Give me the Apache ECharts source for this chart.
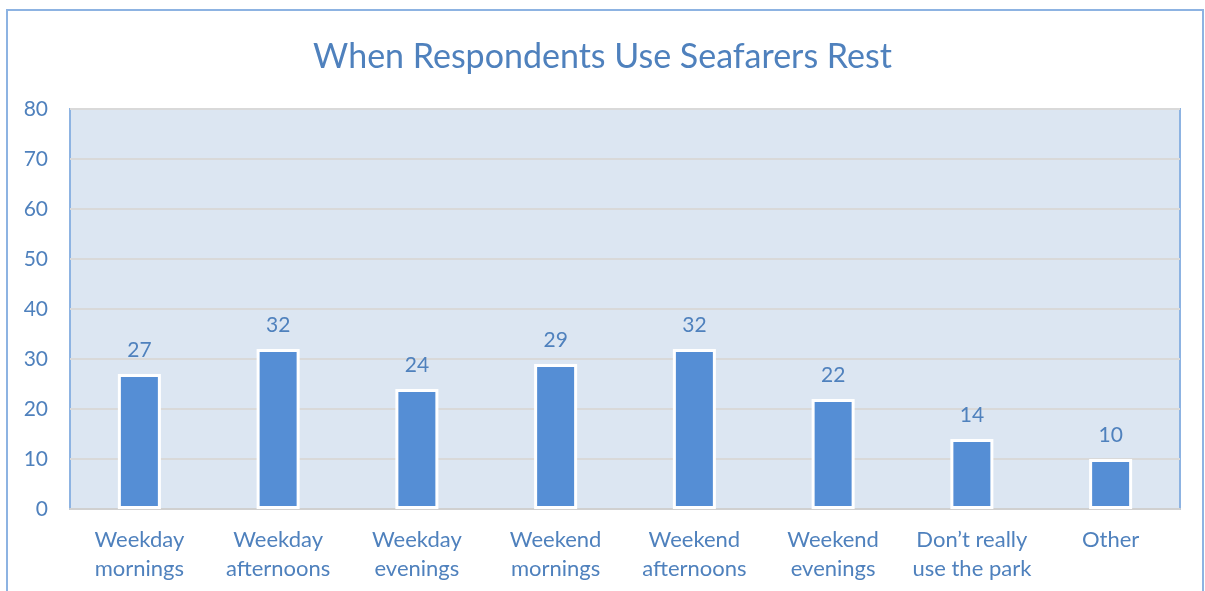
<!DOCTYPE html>
<html>
<head>
<meta charset="utf-8">
<script src="https://cdn.jsdelivr.net/npm/echarts@6/dist/echarts.min.js"></script>
<style>
  html, body { margin: 0; padding: 0; background: #fff; }
  #chart { width: 1205px; height: 591px; }
</style>
</head>
<body>
<div id="chart"></div>
<script>
const categories = ['Weekday\nmornings', 'Weekday\nafternoons', 'Weekday\nevenings', 'Weekend\nmornings',
  'Weekend\nafternoons', 'Weekend\nevenings', 'Don\u2019t really\nuse the park', 'Other'];
const counts = [27, 32, 24, 29, 32, 22, 14, 10];
const yTicks = [0, 80, 10]; // min, max, interval

const textColor = '#4f81bd';
const font = 'Lato, "Open Sans", sans-serif';

const chart = echarts.init(document.getElementById('chart'));
const option = {
  animation: false,
  graphic: [
    {
      type: 'rect',
      shape: { x: 7, y: 10, width: 1196, height: 620 },
      style: { fill: 'none', stroke: '#8db3e2', lineWidth: 2 },
      z: -10
    }
  ],
  title: {
    text: 'When Respondents Use Seafarers Rest',
    left: 'center',
    top: 35,
    textStyle: { color: textColor, fontFamily: font, fontWeight: 'normal', fontSize: 34 }
  },
  grid: {
    left: 70, right: 25, top: 109, bottom: 82,
    show: true,
    backgroundColor: '#dce6f2',
    borderColor: '#8db3e2',
    borderWidth: 2
  },
  xAxis: {
    type: 'category',
    data: categories,
    axisLine: { show: true, lineStyle: { color: '#d0d0d0', width: 2 } },
    axisTick: { show: false },
    axisLabel: { color: textColor, fontFamily: font, fontSize: 22, lineHeight: 29, margin: 16, interval: 0 }
  },
  yAxis: {
    type: 'value',
    min: yTicks[0],
    max: yTicks[1],
    interval: yTicks[2],
    axisLine: { show: false },
    axisTick: { show: false },
    axisLabel: { color: textColor, fontFamily: font, fontSize: 21, margin: 22 },
    splitLine: { lineStyle: { color: '#d9d9d9', width: 2 } }
  },
  series: [
    {
      type: 'bar',
      data: counts,
      barWidth: 43,
      itemStyle: { color: '#558ed5', borderColor: '#ffffff', borderWidth: 3 },
      label: {
        show: true,
        position: 'top',
        distance: 13,
        color: textColor,
        fontFamily: font,
        fontSize: 21
      }
    }
  ]
};
chart.setOption(option);
</script>
</body>
</html>
